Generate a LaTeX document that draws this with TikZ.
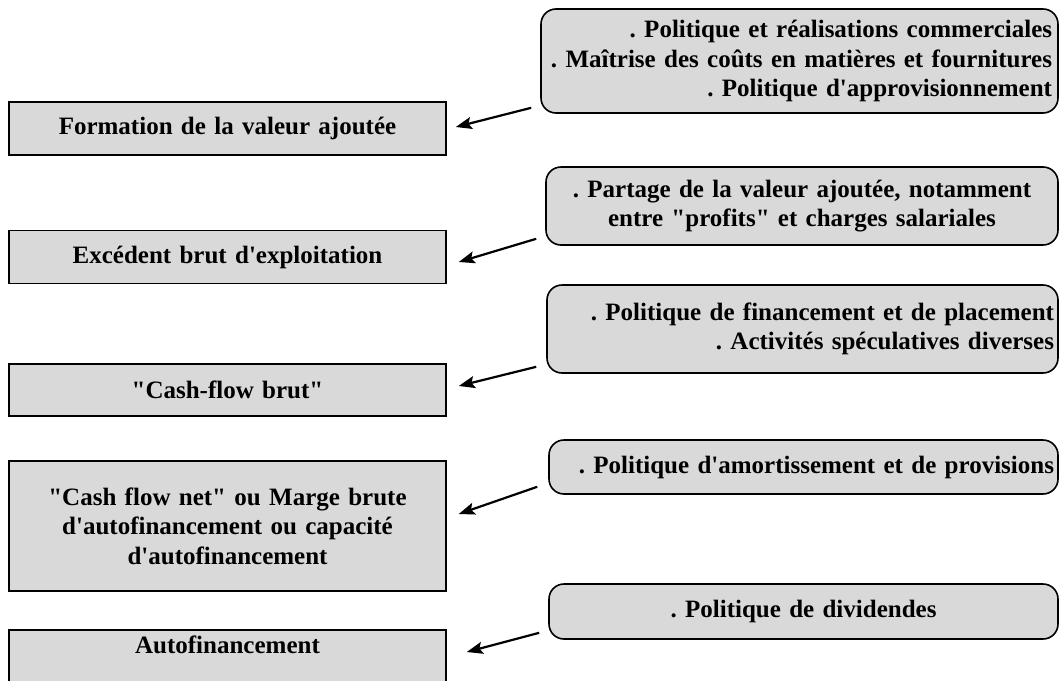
\documentclass[tikz,border=0pt]{standalone}
\usepackage{fontspec}
\setmainfont{Liberation Serif}[Ligatures=TeXOff]
\usetikzlibrary{arrows.meta}
\definecolor{boxgray}{RGB}{217,217,217}
\frenchspacing
\begin{document}
\begin{tikzpicture}[x=1pt,y=-1pt,
  txt/.style={font=\bfseries\fontsize{25}{29.5}\selectfont},
  stage/.style={txt, draw=black, line width=1.6pt, fill=boxgray,
    align=center, text width=420pt, minimum width=437pt, inner xsep=8.5pt, inner ysep=0pt},
  factor/.style={txt, draw=black, line width=1.6pt, fill=boxgray,
    rounded corners=15pt, inner ysep=0pt},
  arr/.style={line width=2.2pt, -{Stealth[length=16pt,width=12pt,inset=3pt]}}]
\clip (0,0) rectangle (1064,680);

% stages of the cash-flow cascade
\node[stage, minimum height=53pt] (lv1) at (227.5,128.5) {Formation de la valeur ajoutée};
\node[stage, minimum height=53pt] (lv2) at (227.5,257) {Excédent brut d'exploitation};
\node[stage, minimum height=52pt] (lv3) at (227.5,390) {"Cash-flow brut"};
\node[stage, minimum height=130pt] (lv4) at (227.5,526)
  {"Cash flow net" ou Marge brute\\d'autofinancement ou capacité\\d'autofinancement};
\node[stage, anchor=north, inner ysep=6pt, text height=18pt, text depth=50pt] (lv5) at (227.5,629) {Autofinancement};

% factors acting on each stage
\node[factor, align=right, minimum width=517pt, text width=505pt, inner xsep=6pt, minimum height=104pt] (f1) at (799.5,61)
  {. Politique et réalisations commerciales\\. Maîtrise des coûts en matières et fournitures\hspace*{5pt}\\. Politique d'approvisionnement};
\node[factor, align=center, minimum width=512pt, text width=500pt, inner xsep=6pt, minimum height=78pt] (f2) at (802,206)
  {. Partage de la valeur ajoutée, notamment\\entre "profits" et charges salariales};
\node[factor, align=right, minimum width=511pt, text width=503pt, inner xsep=4pt, minimum height=88pt] (f3) at (802.5,329)
  {. Politique de financement et de placement\\. Activités spéculatives diverses};
\node[factor, align=right, minimum width=509pt, text width=501pt, inner xsep=4pt, minimum height=54pt] (f4) at (803.5,467)
  {. Politique d'amortissement et de provisions};
\node[factor, align=center, minimum width=509pt, text width=497pt, inner xsep=6pt, minimum height=55pt] (f5) at (803.5,611.5)
  {. Politique de dividendes};

% influence arrows
\draw[arr] ([shift={(-9,-6)}]f1.south west) -- ([shift={(9,-1.5)}]lv1.east);
\draw[arr] ([shift={(-9,-7)}]f2.south west) -- ([shift={(12,5)}]lv2.east);
\draw[arr] ([shift={(-10,-7)}]f3.south west) -- ([shift={(12,-4)}]lv3.east);
\draw[arr] ([shift={(-11,-8)}]f4.south west) -- ([shift={(12,-12)}]lv4.east);
\draw[arr] ([shift={(-9,-7)}]f5.south west) -- ([shift={(20,23)}]lv5.north east);
\end{tikzpicture}
\end{document}
